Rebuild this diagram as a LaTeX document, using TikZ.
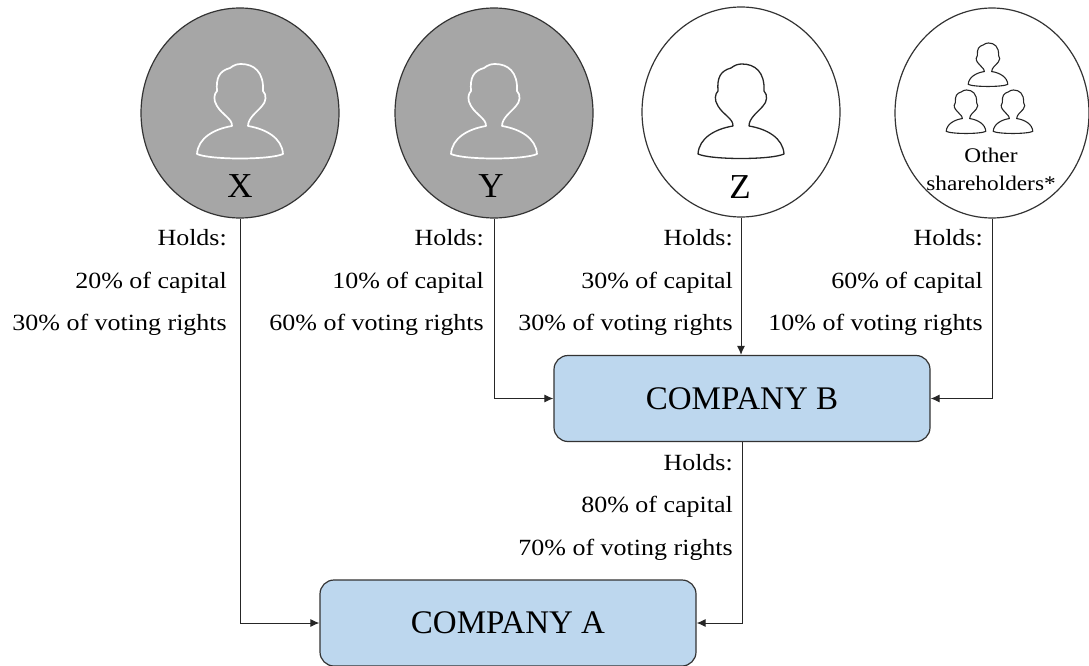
\documentclass[tikz,border=0pt]{standalone}
\usepackage{fontspec}
\setmainfont[FakeStretch=1.12]{Liberation Serif}
\newfontfamily\bigserif[FakeStretch=1.0]{Liberation Serif}
\usetikzlibrary{arrows.meta,shapes.geometric}
\definecolor{holderGrey}{HTML}{A6A6A6}
\definecolor{companyBlue}{HTML}{BDD7EE}
\tikzset{
	holder/.style={ellipse, draw=black!80, line width=1.2pt, minimum width=198pt, minimum height=210pt, inner sep=0pt},
	company/.style={rectangle, rounded corners=14pt, draw=black!80, fill=companyBlue, line width=1.2pt, minimum width=376pt, minimum height=86pt, font=\bigserif\fontsize{33}{36}\selectfont},
	letter/.style={anchor=base, inner sep=0pt, font=\bigserif\fontsize{35}{38}\selectfont},
	share/.style={anchor=base east, inner sep=0pt, font=\fontsize{23.2}{26}\selectfont},
	othertext/.style={anchor=base, inner sep=0pt, font=\fontsize{20.8}{24}\selectfont},
	link/.style={draw=black!85, line width=1pt, -{Latex[length=9pt,width=8pt]}},
	person/.pic={
		\draw[pic actions, line join=round]
			(-8,62) .. controls (-8,58) and (-10,56) .. (-13,53)
			.. controls (-17,49) and (-20,47) .. (-23,42)
			.. controls (-27,36) and (-26,30) .. (-23,27)
			.. controls (-24,14) and (-21,7) .. (-10,4)
			.. controls (-6,1) and (-3,0) .. (1,0)
			.. controls (14,0) and (24,8) .. (23,27)
			.. controls (27,31) and (26,38) .. (22,42)
			.. controls (17,48) and (8,54) .. (8,62)
			.. controls (26,65) and (42,74) .. (43,90)
			.. controls (30,96) and (-30,96) .. (-43,90)
			.. controls (-42,74) and (-26,65) .. (-8,62) -- cycle;
	}
}
\begin{document}
\begin{tikzpicture}[x=1pt, y=-1pt]
	\useasboundingbox (0,0) rectangle (1089,666);
	
	\node[holder, fill=holderGrey] (holderX) at (240,113) {};
	\node[holder, fill=holderGrey] (holderY) at (494,113) {};
	\node[holder] (holderZ) at (741,112) {};
	\node[holder, minimum width=194pt] (holderO) at (992,113) {};
	
	\node[company] (compB) at (742,398.5) {COMPANY B};
	\node[company] (compA) at (508,623) {COMPANY A};
	
	\pic[draw=white, line width=1.7pt] at (240,64) {person};
	\pic[draw=white, line width=1.7pt] at (494,64) {person};
	\pic[draw=black!85, line width=1.3pt] at (741,64) {person};
	\pic[draw=black!85, line width=1.1pt, scale=.46] at (988,43) {person};
	\pic[draw=black!85, line width=1.1pt, scale=.46] at (966,90) {person};
	\pic[draw=black!85, line width=1.1pt, scale=.46] at (1013,90) {person};
	
	\node[letter] (nameX) at (240,197) {X};
	\node[letter] (nameY) at (491,197) {Y};
	\node[letter] (nameZ) at (740,198) {Z};
	\node[othertext] (nameO) at (991,162) {Other};
	\node[othertext] (nameOb) at (991,190) {shareholders*};
	
	\node[share] (holdsX) at (227,245) {Holds:};
	\node[share] (capX) at (227,288) {20\% of capital};
	\node[share] (voteX) at (227,330) {30\% of voting rights};
	
	\node[share] (holdsY) at (484,245) {Holds:};
	\node[share] (capY) at (484,288) {10\% of capital};
	\node[share] (voteY) at (484,330) {60\% of voting rights};
	
	\node[share] (holdsZ) at (733,245) {Holds:};
	\node[share] (capZ) at (733,288) {30\% of capital};
	\node[share] (voteZ) at (733,330) {30\% of voting rights};
	
	\node[share] (holdsO) at (983,245) {Holds:};
	\node[share] (capO) at (983,288) {60\% of capital};
	\node[share] (voteO) at (983,330) {10\% of voting rights};
	
	\node[share] (holdsB) at (733,470) {Holds:};
	\node[share] (capB) at (733,512) {80\% of capital};
	\node[share] (voteB) at (733,555) {70\% of voting rights};
	
	\draw[link] (holderX.south) |- (compA.west);
	\draw[link] (holderY.south) |- (compB.west);
	\draw[link] (holderZ.south) -- (holderZ.south |- compB.north);
	\draw[link] (holderO.south) |- (compB.east);
	\draw[link] (compB.south) |- (compA.east);
\end{tikzpicture}
\end{document}
